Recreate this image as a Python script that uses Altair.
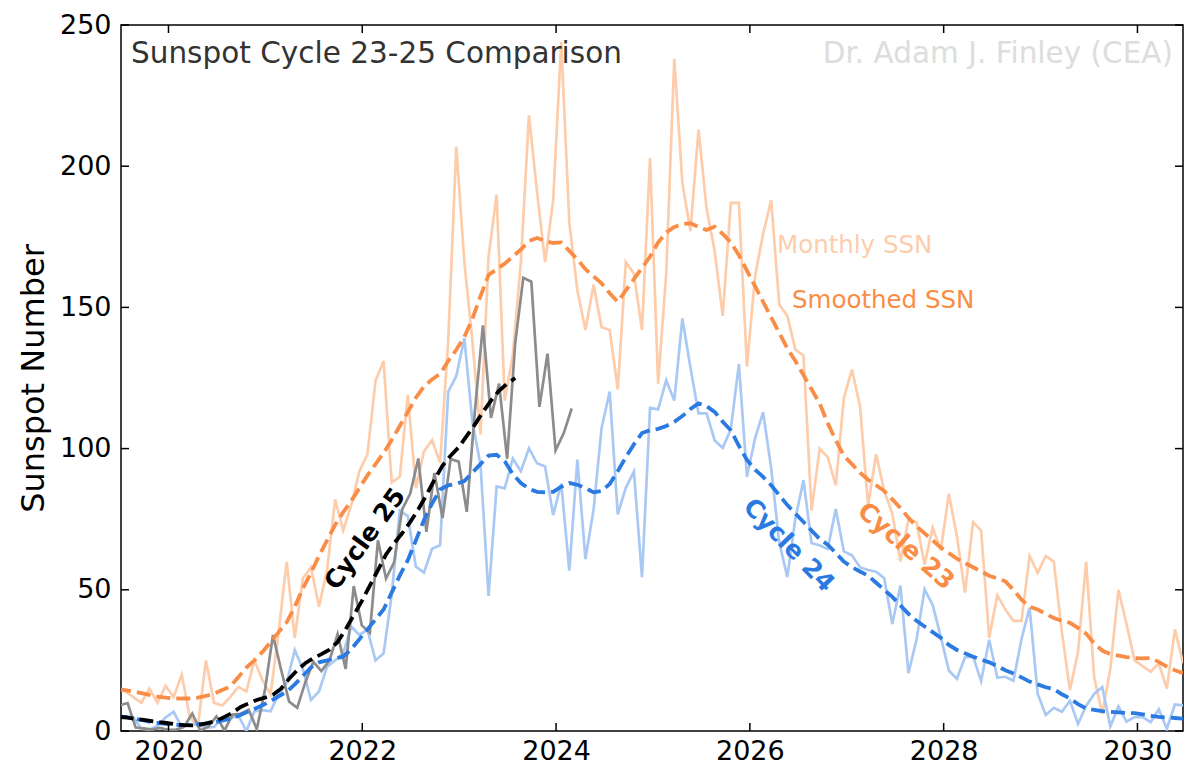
import altair as alt
import pandas as pd

FONT = "DejaVu Sans"
W, H = 1062, 706

# every series starts 9 months before the cycle-25 calendar's Jan 2020
FIRST_MONTH = -9
T0_25 = 2020.245    # cycle 25 plotted on its own calendar
T0_PAST = 2020.22   # cycles 23 and 24 shifted onto the cycle 25 calendar

X_TICKS = [2020, 2022, 2024, 2026, 2028, 2030]
Y_TICKS = [0, 50, 100, 150, 200, 250]

c23_monthly = [
    15, 14, 12, 10, 15, 10, 16, 12, 20, 5, 1.5, 25,
    10, 9, 12, 15.6, 14, 25, 18, 13, 35, 60, 33, 54,
    58, 44, 57, 82, 71, 80, 92, 98, 124, 131, 88, 90,
    119, 86, 99, 103, 95, 138, 207, 166, 138, 105, 168, 190,
    117, 133, 166, 218, 191, 166, 188, 244, 180, 156, 142, 158,
    143, 142, 121, 166, 162, 142, 203, 123, 162, 238, 194, 177,
    213, 185, 170, 147, 187, 187, 129, 161, 176, 188, 151, 147,
    135, 133, 78, 100, 97, 87, 118, 128, 115, 80, 98, 85,
    77, 60, 75, 74, 59, 72, 64, 84, 69, 49, 74, 71,
    33, 48, 43, 39, 39, 62, 56, 62, 60, 35, 14.5, 28,
    60, 19, 6, 22, 50, 38, 25, 23, 21, 24, 15, 36,
    24,
]
c23_smoothed = [
    15, 14.5, 14, 13.4, 12.8, 12.2, 11.8, 11.6, 11.5, 11.5, 11.8, 12.4,
    13.2, 14.5, 15.7, 19, 22.5, 25, 28, 31.5, 35, 38.5, 44, 50.5,
    56, 62, 67.5, 73, 77.5, 81.5, 86, 90.5, 94.5, 98.5, 103, 108,
    113, 118, 122, 124.5, 126.5, 131, 135, 139.5, 146, 154, 161.5, 163.5,
    165.5, 168, 170.5, 173.5, 174.6, 173.5, 172.8, 173, 170, 167, 163.5, 161,
    158.5, 155, 152, 156, 160, 164, 168, 173, 176.5, 178.5, 179.5, 179.8,
    178.5, 177.4, 178.6, 176, 173, 168.5, 163, 157.5, 152, 146.5, 141, 135.5,
    131, 126, 121, 116, 109, 103, 97.5, 94.5, 91.5, 89, 87, 85,
    82, 79, 75.5, 72.5, 70, 67.5, 65, 63, 61, 59.5, 58, 56.5,
    55, 54, 53, 50, 46.5, 44, 43, 41.5, 40, 39, 38.3, 36.5,
    34.5, 31, 28.5, 27.2, 26.7, 26.2, 25.8, 25.7, 25.8, 24.5, 22.8, 21.5,
    20.5,
]
c24_monthly = [
    4.8, 4.6, 4.9, 0.8, 0.5, 1.8, 4.8, 6.8, 1.3, 2.3, 2.3, 1.2,
    1.4, 4.6, 4.4, 5.6, 0.0, 6.9, 7.4, 7.0, 13, 17, 28.7, 22,
    11, 14, 22.8, 25, 27.5, 37, 34, 35.8, 25, 27.5, 48, 78,
    76.1, 58.2, 56.1, 64.5, 65.8, 120.1, 125.7, 139.1, 109.3, 94.4, 47.8, 86.6,
    85.9, 96.5, 92.0, 100.1, 94.8, 93.7, 76.5, 87.6, 56.8, 96.1, 60.9, 78.3,
    107.3, 120.2, 76.7, 86.2, 91.8, 54.5, 114.4, 113.9, 124.2, 117.0, 146.1, 128.7,
    112.5, 112.5, 102.9, 100.2, 106.9, 130.0, 90.0, 103.6, 112.9, 93.0, 66.7, 54.5,
    75.3, 88.8, 66.5, 65.8, 64.4, 78.6, 63.6, 62.2, 58.0, 57.0, 56.4, 54.1,
    37.9, 51.5, 20.5, 32.4, 50.2, 44.6, 33.4, 21.4, 18.5, 26.1, 26.4, 17.7,
    32.3, 18.9, 19.2, 17.8, 32.6, 43.7, 13.2, 5.7, 8.2, 6.8, 10.7, 2.5,
    8.9, 13.1, 15.6, 1.6, 8.7, 3.3, 4.9, 4.9, 3.1, 7.7, 0.8, 9.4,
    9.1,
]
c24_smoothed = [
    5.2, 5.0, 4.5, 3.9, 3.3, 2.9, 2.5, 2.2, 2.1, 2.2, 2.4, 2.6,
    3.0, 3.7, 4.3, 5.3, 6.6, 7.8, 9.1, 10.6, 12.3, 13.9, 16.5, 19.5,
    22.5, 24.3, 25, 25.7, 26.3, 29, 32.5, 36, 39.5, 43, 49, 55,
    60.5, 67.5, 74.7, 80.5, 85.5, 87, 87.5, 88.5, 91.5, 94.5, 97.5, 97.8,
    95.5, 91, 87.8, 85.8, 84.7, 84.5, 84.7, 86.5, 87.8, 87.2, 86, 84.5,
    85, 87.5, 92, 97, 101.5, 105.5, 106.5, 107, 108, 109.5, 111.5, 114,
    116, 115, 113, 109.5, 106.5, 101, 96, 92.5, 90, 87, 83.5, 80,
    77, 74, 71, 68, 66, 63, 60, 58, 56.5, 55, 52.5, 50,
    47.5, 44.5, 41.5, 39, 37, 35, 33, 30.5, 28.7, 27.5, 26.3, 25.3,
    24.3, 23, 21.5, 20.4, 19, 17.5, 16.5, 15.5, 14.8, 13, 11.5, 9.5,
    8, 7.5, 7, 6.8, 6.6, 6.4, 6.3, 5.9, 5.4, 5, 4.8, 4.6,
    4.4,
]
c25_monthly = [
    9.1, 9.9, 1.2, 0.9, 0.5, 1.1, 0.4, 0.5, 1.5, 6.2, 0.2, 1.5,
    5.2, 0.2, 5.8, 6.1, 7.5, 0.6, 14.4, 34.0, 21.8, 10.4, 8.2, 17.2,
    24.5, 21.2, 25.0, 34.3, 22.0, 51.3, 37.4, 34.8, 67.5, 54.0, 59.7, 78.5,
    84.1, 96.5, 70.5, 91.4, 75.4, 96.3, 95.4, 77.6, 113.1, 143.6, 110.9, 123.0,
    96.4, 137.4, 160.5, 159.1, 114.8, 133.6, 99.4, 105.4, 114.2,
]
c25_smoothed = [
    5.0, 4.7, 4.3, 3.9, 3.5, 3.1, 2.8, 2.4, 2.1, 2.0, 2.3, 2.9,
    3.6, 5.0, 6.5, 8.5, 9.8, 11.0, 11.8, 12.8, 15.0, 18.5, 21.5, 24.0,
    25.8, 27.2, 28.8, 31.5, 36.0, 41.0, 46.0, 51.5, 57.0, 62.5, 66.5, 70.0,
    74.0, 78.5, 83.5, 89.0, 94.0, 97.5, 100.5, 104.5, 108.5, 113.0, 117.0, 120.5,
    123.0, 125.0,
]

ORANGE = "#f98d45"
ORANGE_LIGHT = "#fdcdab"
BLUE = "#2a7ae2"
BLUE_LIGHT = "#a9c9f4"
GREY = "#8c8c8c"

x_scale = alt.Scale(domain=[2019.51, 2030.47], nice=False, zero=False)
y_scale = alt.Scale(domain=[0, 250], nice=False)

x_axis = alt.Axis(
    values=X_TICKS, format="d", title=None, labelFontSize=27, labelPadding=7,
)
y_axis = alt.Axis(
    values=Y_TICKS, format="d", title="Sunspot Number", labelFontSize=27,
    labelPadding=10, titleFontSize=32, titleFontWeight="normal",
    titleX=-88, titleY=H / 2, titleAngle=270, titleAlign="center",
    titleBaseline="middle",
)


def month_years(t0, n):
    return [t0 + (FIRST_MONTH + i) / 12 for i in range(n)]


def series_line(t0, values, color, width, dash=None):
    df = pd.DataFrame({"year": month_years(t0, len(values)), "ssn": values})
    kw = dict(color=color, strokeWidth=width, clip=True)
    if dash:
        kw["strokeDash"] = dash
    return alt.Chart(df).mark_line(**kw).encode(
        x=alt.X("year:Q", scale=x_scale, axis=x_axis),
        y=alt.Y("ssn:Q", scale=y_scale, axis=y_axis),
    )


def label(text, x, y, size, color, weight="normal", align="left",
          angle=0, baseline="alphabetic"):
    return alt.Chart(pd.DataFrame({"text": [text]})).mark_text(
        align=align, baseline=baseline, angle=angle, fontSize=size,
        font=FONT, fontWeight=weight, color=color,
    ).encode(x=alt.value(x), y=alt.value(y), text="text:N")


dash = [14, 6]
lines = [
    series_line(T0_PAST, c23_monthly, ORANGE_LIGHT, 2.7),
    series_line(T0_PAST, c24_monthly, BLUE_LIGHT, 2.7),
    series_line(T0_25, c25_monthly, GREY, 2.7),
    series_line(T0_PAST, c23_smoothed, ORANGE, 3.8, dash),
    series_line(T0_PAST, c24_smoothed, BLUE, 3.8, dash),
    series_line(T0_25, c25_smoothed, "black", 3.8, dash),
]

# inward ticks on all four sides
xt = pd.DataFrame({"year": X_TICKS})
yt = pd.DataFrame({"ssn": Y_TICKS})
tick = dict(color="black", strokeWidth=1.5)
ticks = [
    alt.Chart(xt).mark_rule(**tick).encode(
        x=alt.X("year:Q", scale=x_scale, axis=x_axis),
        y=alt.value(H), y2=alt.value(H - 8)),
    alt.Chart(xt).mark_rule(**tick).encode(
        x=alt.X("year:Q", scale=x_scale, axis=x_axis),
        y=alt.value(0), y2=alt.value(8)),
    alt.Chart(yt).mark_rule(**tick).encode(
        y=alt.Y("ssn:Q", scale=y_scale, axis=y_axis),
        x=alt.value(0), x2=alt.value(8)),
    alt.Chart(yt).mark_rule(**tick).encode(
        y=alt.Y("ssn:Q", scale=y_scale, axis=y_axis),
        x=alt.value(W - 8), x2=alt.value(W)),
]

texts = [
    label("Sunspot Cycle 23-25 Comparison", 10, 38, 29.5, "#333333"),
    label("Dr. Adam J. Finley (CEA)", 1052, 38, 29.5, "#dddddd", align="right"),
    label("Monthly SSN", 656, 228, 24.5, ORANGE_LIGHT),
    label("Smoothed SSN", 671, 283, 24.5, ORANGE),
    label("Cycle 25", 244, 514, 25, "black", "bold", "center", 306, "middle"),
    label("Cycle 24", 668, 520, 25, BLUE, "bold", "center", 46, "middle"),
    label("Cycle 23", 785, 521, 25, ORANGE, "bold", "center", 41, "middle"),
]

chart = (
    alt.layer(*lines, *ticks, *texts)
    .properties(
        width=W, height=H,
        autosize=alt.AutoSizeParams(type="none"),
        padding={"left": 113, "top": 17, "right": 9, "bottom": 44},
    )
    .configure_view(stroke="black", strokeWidth=1.5)
    .configure_axis(
        grid=False, domain=False, ticks=False, labelFont=FONT, titleFont=FONT,
        labelColor="black", titleColor="black",
    )
)

chart.save("out.html", embed_options={"renderer": "svg", "actions": False})
